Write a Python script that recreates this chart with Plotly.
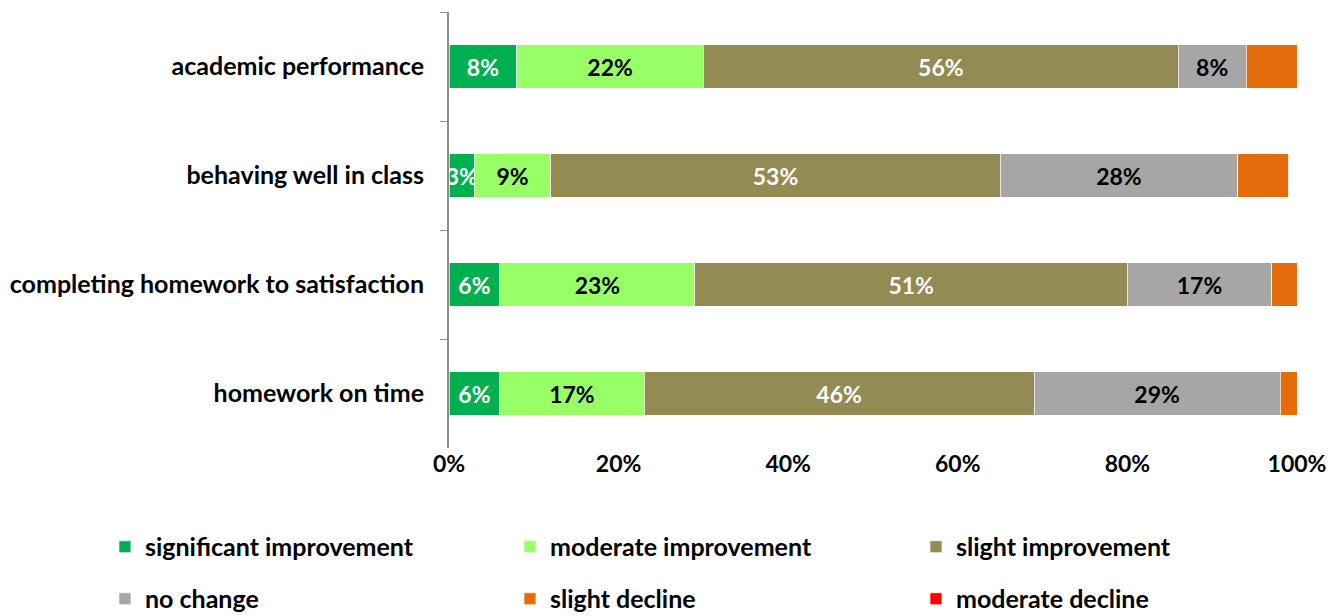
import plotly.graph_objects as go

categories = ["academic performance", "behaving well in class",
              "completing homework to satisfaction", "homework on time"]
series_names = ["significant improvement", "moderate improvement", "slight improvement",
                "no change", "slight decline", "moderate decline"]
significant = [8, 3, 6, 6]
moderate = [22, 9, 23, 17]
slight = [56, 53, 51, 46]
no_change = [8, 28, 17, 29]
slight_decline = [6, 6, 3, 2]
moderate_decline = [0, 0, 0, 0]
tick_vals = [0, 20, 40, 60, 80, 100]
tick_text = ["0%", "20%", "40%", "60%", "80%", "100%"]

series_values = [significant, moderate, slight, no_change, slight_decline, moderate_decline]
colors = ["#00B050", "#99FF66", "#948A54", "#A6A6A6", "#E46C0A", "#FF0000"]
text_colors = ["white", "black", "white", "black", None, None]
show_text = [True, True, True, True, False, False]

FONT = "Lato, 'Open Sans', sans-serif"
SIZE = 23
CAT_SIZE = 25
LEG_SIZE = 25

legend_names = ["legend", "legend2", "legend3", "legend4", "legend5", "legend6"]
legend_x = [-0.4057, 0.0719, 0.5507, -0.4057, 0.0719, 0.5507]
legend_y = [-0.227, -0.227, -0.227, -0.3463, -0.3463, -0.3463]

fig = go.Figure()
for i, (name, vals) in enumerate(zip(series_names, series_values)):
    fig.add_trace(go.Bar(
        y=categories, x=vals, name=name, orientation="h",
        marker=dict(color=colors[i], line=dict(color="rgba(255,255,255,0.7)", width=1)),
        text=[f"{v}%" for v in vals] if show_text[i] else None,
        textposition="inside" if show_text[i] else "none",
        insidetextanchor="middle",
        textangle=0,
        constraintext="none",
        textfont=dict(color=text_colors[i] or "black", size=SIZE, family=FONT, weight="bold"),
        legend=legend_names[i],
        hoverinfo="x+name",
    ))

layout_legends = {}
for i, ln in enumerate(legend_names):
    layout_legends[ln] = dict(orientation="h", x=legend_x[i], xanchor="left",
                              y=legend_y[i], yanchor="middle",
                              font=dict(size=LEG_SIZE, family=FONT, weight="bold"),
                              bgcolor="rgba(0,0,0,0)")

fig.update_layout(
    barmode="stack",
    bargap=0.6,
    width=1343, height=616,
    margin=dict(l=441, r=54, t=4, b=176, autoexpand=False),
    plot_bgcolor="white", paper_bgcolor="white",
    font=dict(family=FONT, size=SIZE, color="black", weight="bold"),
    uniformtext=dict(minsize=SIZE, mode="show"),
    xaxis=dict(range=[0, 100], tickvals=tick_vals, ticktext=tick_text, showgrid=False,
               zeroline=False, showline=False, ticks="", automargin=False,
               tickfont=dict(size=SIZE, family=FONT, weight="bold")),
    yaxis=dict(autorange="reversed", showline=True, linecolor="#8C8C8C", linewidth=2,
               ticks="outside", tickson="boundaries", ticklen=7, tickcolor="#8C8C8C",
               tickwidth=1, showgrid=False, ticklabelstandoff=18, automargin=False,
               tickfont=dict(size=CAT_SIZE, family=FONT, weight="bold")),
    showlegend=True,
    **layout_legends,
)

fig.write_html("out.html")
